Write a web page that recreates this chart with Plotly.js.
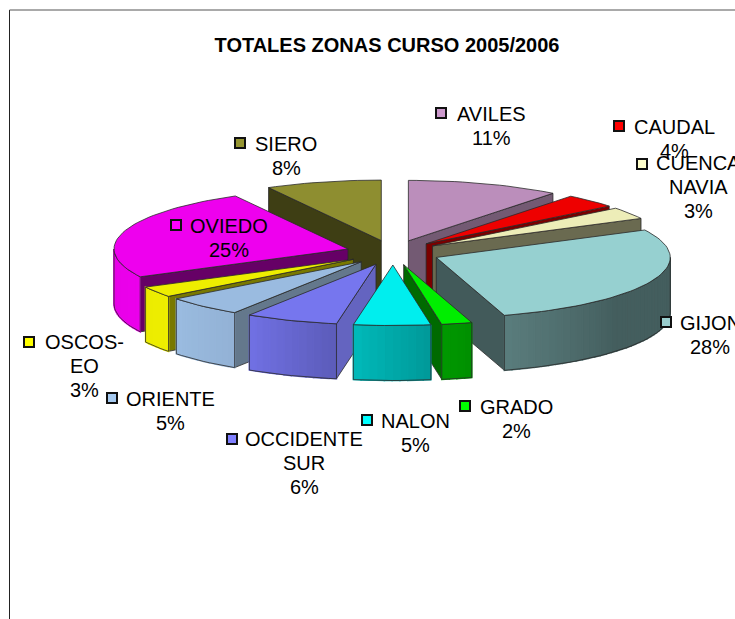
<!DOCTYPE html>
<html><head><meta charset="utf-8">
<script src="https://cdn.plot.ly/plotly-3.0.1.min.js"></script>
<style>html,body{margin:0;padding:0;background:#fff;overflow:hidden}</style>
</head><body><div id="chart" style="width:735px;height:619px"></div>
<script>
// Data
var zones  = ['AVILES','CAUDAL','CUENCA NAVIA','GIJON','GRADO','NALON','OCCIDENTE SUR','ORIENTE','OSCOS-EO','OVIEDO','SIERO'];
var values = [10.6,3.7,3.2,27.8,2.1,5.3,6.4,5.4,2.9,24.6,8.0];
var percentLabels = ['11%','4%','3%','28%','2%','5%','6%','5%','3%','25%','8%'];
var labelLines = [['AVILES'],['CAUDAL'],['CUENCA','NAVIA'],['GIJON'],['GRADO'],['NALON'],['OCCIDENTE','SUR'],['ORIENTE'],['OSCOS-','EO'],['OVIEDO'],['SIERO']];
// Styles
var topColors  = ['#BB8EBB','#EE0000','#EDEDB8','#96D0D0','#00EE00','#00EEEE','#7676EE','#9ABBE0','#EEEE00','#EE00EE','#8E8E30'];
var wallColors = ['#735A73','#7A0000','#6A6A50','#425A5A','#006A00','#007878','#6464C0','#64788C','#787800','#660066','#3E3E14'];
var keyColors  = ['#CC99CC','#FF0000','#FFFFCC','#99CCCC','#00FF00','#00FFFF','#8080FF','#A6CAF0','#FFFF00','#FF00FF','#969632'];
// Label placement (page pixels on the hidden axes)
var labelX = [491,674,698,710,516,415,304,170,84,229,286];
var labelY = [126,139,187,335,419,433,463,411,366,238,156];
var keyX   = [441,619,642,666,465,367,232,112,29,176,240];
var keyY   = [113,126,164,322,406,420,439,398,342,225,143];
// Pie geometry
var cx=393, cy=252.6, explodeX=47, explodeY=12.4, radX=234, radY=60.5, depth=55, lineStep=23.6;
var shadeAngles=[90,130,163,172,190,212,232,270];
var shadeValues=[.45,.45,.60,.65,.78,.95,1,.97];
var outline='#2a2a2a';

function rad(d){return d*Math.PI/180;}
function shade(hex,f){
  var n=parseInt(hex.slice(1),16);
  return 'rgb('+[(n>>16)&255,(n>>8)&255,n&255].map(function(c){return Math.round(c*f);}).join(',')+')';
}
function shadeAt(t){
  for(var i=0;i<shadeAngles.length-1;i++){
    if(t<=shadeAngles[i+1]){
      var a=(t-shadeAngles[i])/(shadeAngles[i+1]-shadeAngles[i]);
      return shadeValues[i]+a*(shadeValues[i+1]-shadeValues[i]);
    }
  }
  return shadeValues[shadeValues.length-1];
}
var total=values.reduce(function(a,b){return a+b;},0), acc=0;
var slices=values.map(function(v,i){
  var s=acc/total*360; acc+=v; var e=acc/total*360, m=(s+e)/2;
  return {i:i,s:s,e:e,m:m,ax:cx+explodeX*Math.sin(rad(m)),ay:cy-explodeY*Math.cos(rad(m))};
});
function rim(sl,t,dz){return [sl.ax+radX*Math.sin(rad(t)),sl.ay-radY*Math.cos(rad(t))+(dz||0)];}
function poly(pts,fill,line,name,w){
  return {type:'scatter',mode:'lines',x:pts.map(function(p){return p[0];}),y:pts.map(function(p){return p[1];}),
    fill:fill?'toself':'none',fillcolor:fill||undefined,line:{color:line,width:w||0.8},
    hoverinfo:name?'text':'skip',text:name||undefined,showlegend:false};
}
var traces=[];
slices.slice().sort(function(a,b){return Math.cos(rad(b.m))-Math.cos(rad(a.m));}).forEach(function(sl){
  var c=topColors[sl.i], w=wallColors[sl.i], A=[sl.ax,sl.ay], Ad=[sl.ax,sl.ay+depth];
  // radial walls: only those that face the viewer
  [[sl.s,-90],[sl.e,90]].forEach(function(p){
    if(Math.cos(rad(p[0]+p[1]))<0){
      traces.push(poly([A,rim(sl,p[0]),rim(sl,p[0],depth),Ad,A],w,outline));
    }
  });
  var a0=Math.max(sl.s,90), a1=Math.min(sl.e,270);
  if(a1>a0){
    var n=Math.ceil((a1-a0)/2), edge=[], edgeB=[];
    for(var k=0;k<n;k++){
      var t0=a0+(a1-a0)*k/n, t1=a0+(a1-a0)*(k+1)/n, col=shade(c,shadeAt((t0+t1)/2));
      traces.push(poly([rim(sl,t0),rim(sl,t1),rim(sl,t1,depth),rim(sl,t0,depth),rim(sl,t0)],col,col,null,1.5));
    }
    for(k=0;k<=n;k++){var t=a0+(a1-a0)*k/n; edge.push(rim(sl,t)); edgeB.unshift(rim(sl,t,depth));}
    traces.push(poly(edge.concat(edgeB,[edge[0]]),null,outline));
  }
  var pts=[A], m=Math.ceil((sl.e-sl.s)/2);
  for(var j=0;j<=m;j++) pts.push(rim(sl,sl.s+(sl.e-sl.s)*j/m));
  pts.push(A);
  traces.push(poly(pts,c,outline,zones[sl.i]+' '+percentLabels[sl.i]));
});
traces.push({type:'scatter',mode:'markers',x:keyX,y:keyY,hoverinfo:'skip',showlegend:false,
  marker:{symbol:'square',size:10,color:keyColors,line:{color:'#111',width:2}}});

var annotations=[];
zones.forEach(function(z,i){
  var lines=labelLines[i].concat(percentLabels[i]);
  lines.forEach(function(txt,k){
    annotations.push({xref:'x',yref:'y',x:labelX[i],y:labelY[i]+(k-(lines.length-1)/2)*lineStep,
      xanchor:'center',yanchor:'middle',showarrow:false,text:txt,
      font:{family:'"Liberation Sans",Arial,sans-serif',size:20,color:'#000'}});
  });
});
var layout={width:735,height:619,margin:{l:0,r:0,t:0,b:0},paper_bgcolor:'#fff',plot_bgcolor:'#fff',showlegend:false,
  title:{text:'TOTALES ZONAS CURSO 2005/2006',x:387/735,xanchor:'center',y:1-45/619,yanchor:'middle',
    font:{family:'"Liberation Sans",Arial,sans-serif',size:20,color:'#000',weight:'bold'}},
  xaxis:{range:[0,735],visible:false,fixedrange:true},
  yaxis:{range:[619,0],visible:false,fixedrange:true},
  annotations:annotations,
  shapes:[
    {type:'line',xref:'x',yref:'y',x0:9.5,x1:9.5,y0:10,y1:619,line:{color:'#222',width:1}},
    {type:'line',xref:'x',yref:'y',x0:9.5,x1:735,y0:10,y1:10,line:{color:'#555',width:1}}
  ]};
Plotly.newPlot('chart',traces,layout,{displayModeBar:false,responsive:false});
</script></body></html>
